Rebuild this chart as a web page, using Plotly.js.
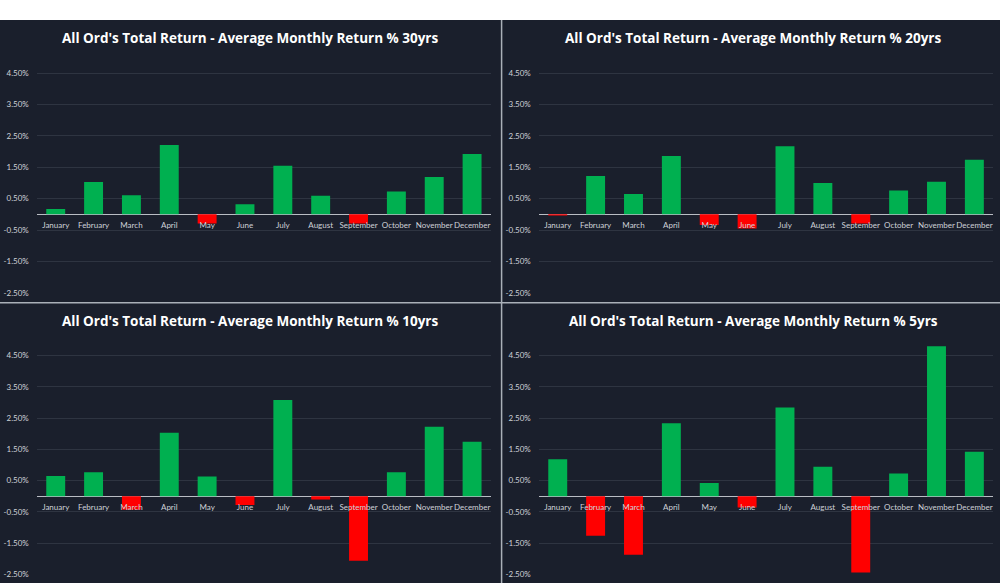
<!DOCTYPE html>
<html>
<head>
<meta charset="utf-8">
<script src="https://cdn.plot.ly/plotly-3.0.1.min.js"></script>
<style>
  html, body { margin: 0; padding: 0; background: #ffffff; }
  #chart { width: 1000px; height: 583px; }
</style>
</head>
<body>
<div id="chart"></div>
<script>
// Month categories shared by every panel
const months = ['January', 'February', 'March', 'April', 'May', 'June',
                'July', 'August', 'September', 'October', 'November', 'December'];

// Average monthly total return (%) of the All Ordinaries over each look-back period
const ret30yrs = [0.17, 1.03, 0.61, 2.21, -0.29, 0.32, 1.55, 0.59, -0.29, 0.73, 1.19, 1.92];
const ret20yrs = [-0.04, 1.22, 0.65, 1.86, -0.34, -0.45, 2.17, 1.00, -0.29, 0.76, 1.04, 1.74];
const ret10yrs = [0.65, 0.77, -0.43, 2.03, 0.63, -0.28, 3.08, -0.10, -2.06, 0.77, 2.22, 1.74];
const ret5yrs  = [1.18, -1.26, -1.87, 2.33, 0.42, -0.36, 2.84, 0.94, -2.44, 0.73, 4.79, 1.42];

// Panel titles
const panelTitles = [
  "All Ord's Total Return - Average Monthly Return % 30yrs",
  "All Ord's Total Return - Average Monthly Return % 20yrs",
  "All Ord's Total Return - Average Monthly Return % 10yrs",
  "All Ord's Total Return - Average Monthly Return % 5yrs"
];

// Value-axis gridlines and their labels
const yTickVals = [4.5, 3.5, 2.5, 1.5, 0.5, -0.5, -1.5, -2.5];
const yTickText = ['4.50%', '3.50%', '2.50%', '1.50%', '0.50%', '-0.50%', '-1.50%', '-2.50%'];

const series = [ret30yrs, ret20yrs, ret10yrs, ret5yrs];

// ---- layout geometry (pixels in a 1000 x 583 page) ----
const W = 1000, H = 583;
const px = v => v / W;
const py = v => 1 - v / H;

const UP = '#00b050', DOWN = '#ff0000';
const BG = '#1a1f2c';
const GRID = '#2e3441';
const TICK = '#cfd2d8';
const TICK_FONT = 'Lato, Open Sans, sans-serif';
const TITLE_FONT = 'Open Sans, Lato, sans-serif';
const yRange = [-2.5, 5.0];

// plot rectangles: [left, right] and [top, bottom] in pixels, plus title centre
const panels = [
  { x: [36.8, 491.0], y: [57.3, 292.8], title: [250, 38] },
  { x: [538.8, 993.3], y: [57.3, 292.8], title: [752.5, 38] },
  { x: [36.8, 491.0], y: [339.8, 574.5], title: [250, 320.5] },
  { x: [538.8, 993.3], y: [339.8, 574.5], title: [753, 320.5] }
];

const traces = [];
const layout = {
  width: W, height: H,
  margin: { l: 0, r: 0, t: 0, b: 0, pad: 0 },
  paper_bgcolor: BG,
  plot_bgcolor: 'rgba(0,0,0,0)',
  showlegend: false,
  bargap: 0.5,
  font: { family: TICK_FONT, color: TICK, size: 8 },
  shapes: [
    // white strip along the top edge
    { type: 'rect', xref: 'paper', yref: 'paper', x0: 0, x1: 1, y0: py(20), y1: 1,
      fillcolor: '#ffffff', line: { width: 0 }, layer: 'below' },
    // dividers between the four panels
    { type: 'line', xref: 'paper', yref: 'paper', x0: px(501.6), x1: px(501.6), y0: 0, y1: py(20),
      line: { color: '#aab0b8', width: 1.5 }, layer: 'below' },
    { type: 'line', xref: 'paper', yref: 'paper', x0: 0, x1: 1, y0: py(302.8), y1: py(302.8),
      line: { color: '#aab0b8', width: 1.5 }, layer: 'below' }
  ],
  annotations: []
};

series.forEach((vals, i) => {
  const n = i === 0 ? '' : String(i + 1);
  const p = panels[i];
  const xd = [px(p.x[0]), px(p.x[1])];
  const yd = [py(p.y[1]), py(p.y[0])];
  // category axis sits on the zero line of its value axis
  const zeroPos = yd[0] + (0 - yRange[0]) / (yRange[1] - yRange[0]) * (yd[1] - yd[0]);

  traces.push({
    type: 'bar',
    x: months,
    y: vals,
    xaxis: 'x' + n,
    yaxis: 'y' + n,
    marker: { color: vals.map(v => (v >= 0 ? UP : DOWN)), line: { width: 0 } },
    hoverinfo: 'x+y'
  });

  layout['xaxis' + n] = {
    domain: xd,
    anchor: 'free',
    position: zeroPos,
    type: 'category',
    showgrid: false,
    zeroline: false,
    showline: false,
    ticks: '',
    ticklabelstandoff: 5,
    tickfont: { family: TICK_FONT, size: 8, color: TICK },
    tickangle: 0,
    fixedrange: true
  };
  layout['yaxis' + n] = {
    domain: yd,
    anchor: 'x' + n,
    range: yRange,
    tickmode: 'array',
    tickvals: yTickVals,
    ticktext: yTickText,
    showgrid: true,
    gridcolor: GRID,
    gridwidth: 1,
    zeroline: true,
    zerolinecolor: '#b9bdc4',
    zerolinewidth: 1,
    showline: false,
    ticks: '',
    ticklabelstandoff: 7,
    tickfont: { family: TICK_FONT, size: 8, color: TICK },
    fixedrange: true
  };

  layout.annotations.push({
    xref: 'paper', yref: 'paper',
    x: px(p.title[0]), y: py(p.title[1]),
    xanchor: 'center', yanchor: 'middle',
    showarrow: false,
    text: panelTitles[i],
    font: { family: TITLE_FONT, size: 13.5, color: '#ffffff', weight: 700 }
  });
});

Plotly.newPlot('chart', traces, layout, { staticPlot: true, displayModeBar: false });
</script>
</body>
</html>
